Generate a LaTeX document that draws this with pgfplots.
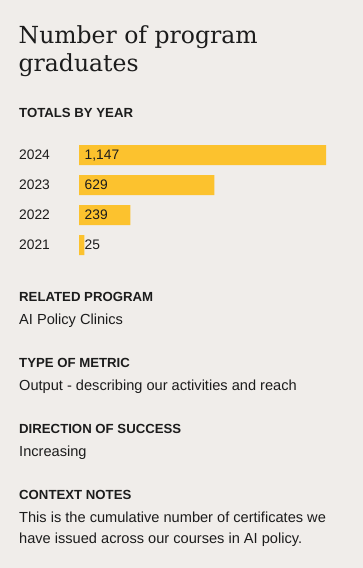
\documentclass[border=0pt]{standalone}
\usepackage{pgfplots}
\pgfplotsset{compat=1.18}
\usepackage{pgfplotstable}
\usepackage{fontspec}
\setmainfont{Liberation Sans}
\newfontfamily\titlefont{DejaVu Serif}
\definecolor{bgcol}{HTML}{F0EDEA}
\definecolor{barcol}{HTML}{FCC22E}
\definecolor{txt}{HTML}{1C1C1C}
\pgfplotstableread{
y val lab
3 1147 1,147
2 629 629
1 239 239
0 25 25
}\grads
\newcommand{\hdr}[1]{{\fontsize{13.2bp}{15bp}\selectfont\bfseries #1}}
\newcommand{\bod}[1]{{\fontsize{14.6bp}{17bp}\selectfont #1}}
\begin{document}
\begin{tikzpicture}
\fill[bgcol] (0,0) rectangle (363bp,-568bp);
\begin{scope}[every node/.style={anchor=base west, inner sep=0pt, text=txt}]
\node at (18.5bp,-43.5bp) {\titlefont\fontsize{23.5bp}{28bp}\selectfont Number of program};
\node at (18.5bp,-71.5bp) {\titlefont\fontsize{23.5bp}{28bp}\selectfont graduates};
\node at (19bp,-117bp) {\hdr{TOTALS BY YEAR}};
\node at (19bp,-301.5bp) {\hdr{RELATED PROGRAM}};
\node at (19bp,-324bp) {\bod{AI Policy Clinics}};
\node at (19bp,-367.5bp) {\hdr{TYPE OF METRIC}};
\node at (19bp,-390bp) {\bod{Output - describing our activities and reach}};
\node at (19bp,-433bp) {\hdr{DIRECTION OF SUCCESS}};
\node at (19bp,-456bp) {\bod{Increasing}};
\node at (19bp,-499bp) {\hdr{CONTEXT NOTES}};
\node at (19bp,-522.5bp) {\bod{This is the cumulative number of certificates we}};
\node at (19bp,-543.5bp) {\bod{have issued across our courses in AI policy.}};
\end{scope}
\begin{axis}[
  at={(79bp,-260bp)}, anchor=south west,
  scale only axis, width=247bp, height=120bp,
  xmin=0, xmax=1147, ymin=-0.5, ymax=3.5,
  axis lines*=left, axis line style={draw=none}, tick style={draw=none},
  xtick=\empty, ytick={0,1,2,3}, yticklabels={2021,2022,2023,2024},
  yticklabel style={anchor=base west, inner sep=0pt, xshift=-60bp, yshift=-4.7bp,
    font=\fontsize{13.8bp}{16bp}\selectfont, text=txt},
  clip=false,
]
\addplot[xbar, bar width=20bp, fill=barcol, draw=none] table[x=val, y=y] {\grads};
\addplot[draw=none, nodes near coords, point meta=explicit symbolic,
  every node near coord/.style={anchor=base west, inner sep=0pt, xshift=5.5bp, yshift=-4.7bp,
    font=\fontsize{13.8bp}{16bp}\selectfont, text=txt}]
  table[x expr=0, y=y, meta=lab] {\grads};
\end{axis}
\end{tikzpicture}
\end{document}
